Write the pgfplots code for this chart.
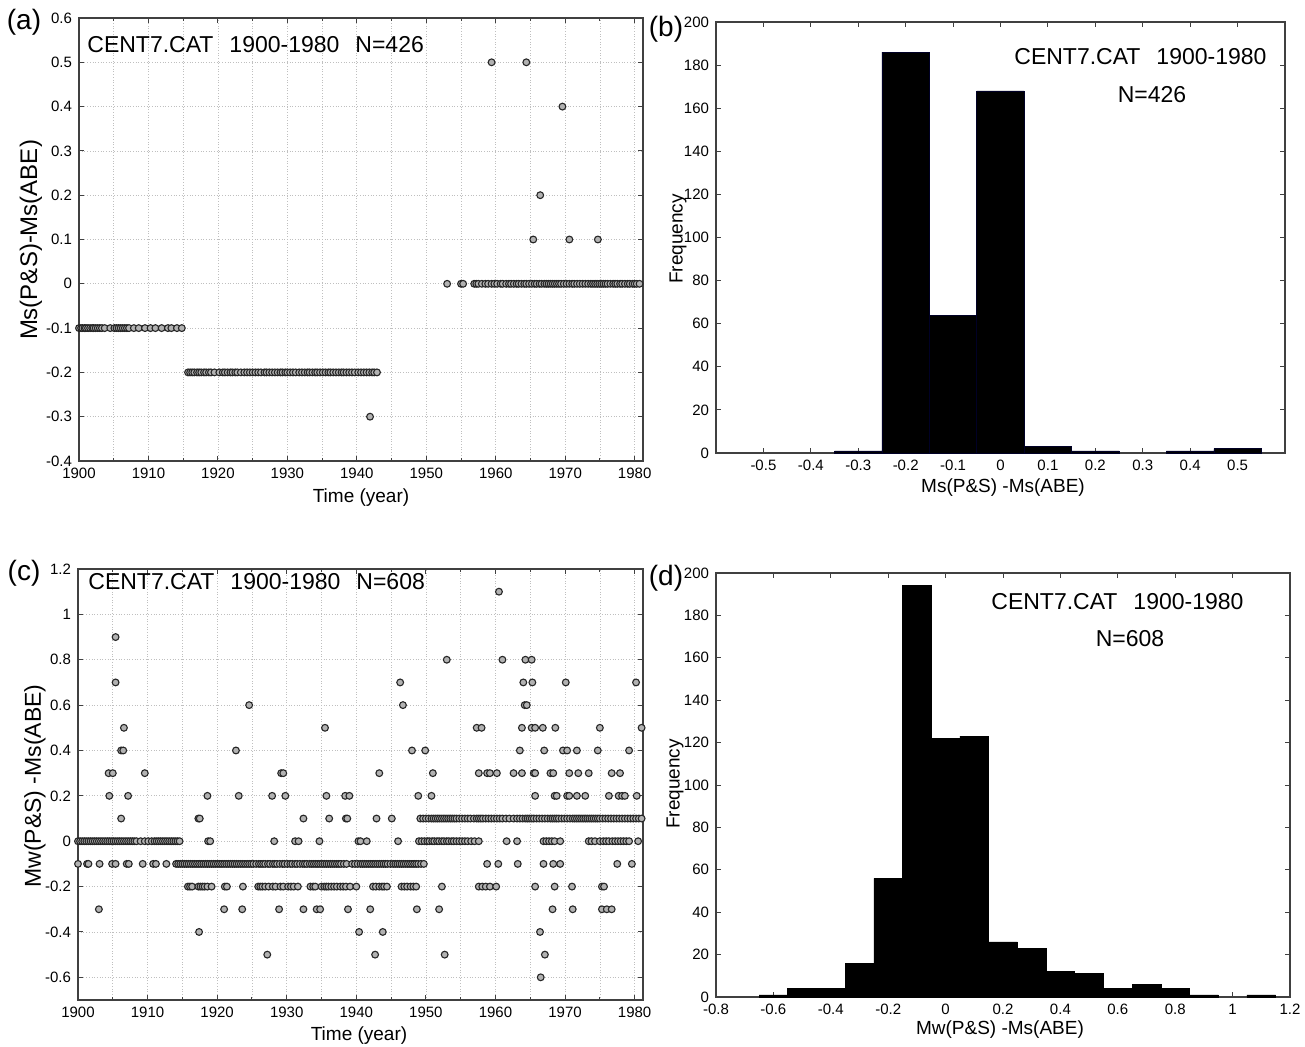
\documentclass[border=0pt]{standalone}
\usepackage{fontspec}
\setmainfont{Liberation Sans}
\usepackage{pgfplots}
\pgfplotsset{compat=1.18}
\pgfplotsset{
  base/.style={
    scale only axis,
    anchor=north west,
    /pgf/number format/assume math mode=true,
    /pgf/number format/1000 sep={},
    tick label style={font=\fontsize{7.5}{8.5}\selectfont},
    tick align=inside,
    tick pos=both,
    major tick length=2.4pt,
    minor tick length=1.5pt,
    axis line style={black!75, line width=0.6pt},
    every tick/.style={black!75, line width=0.5pt},
  },
  scat/.style={only marks, mark=*, mark size=1.7pt,
    mark options={fill=gray!60, draw=black!85, line width=0.55pt}},
  gridst/.style={gray!50, line width=0.35pt, densely dotted},
}
\begin{document}
\begin{tikzpicture}
\path[use as bounding box] (0,0) rectangle (652.5pt,523pt);

% ---------------- (a) ----------------
\begin{axis}[base, at={(39.5pt,514pt)}, width=282pt, height=221.5pt,
  xmin=1900, xmax=1981.2, ymin=-0.4, ymax=0.6,
  xtick={1900,1910,...,1980}, minor xtick={1905,1915,...,1975},
  ytick={-0.4,-0.3,-0.2,-0.1,0,0.1,0.2,0.3,0.4,0.5,0.6},
  yticklabels={-0.4,-0.3,-0.2,-0.1,0,0.1,0.2,0.3,0.4,0.5,0.6},
  grid=both, major grid style={gridst}, minor grid style={gridst}]
\addplot[scat] coordinates {
(1900.0,-0.1)(1900.3,-0.1)(1900.5,-0.1)(1900.8,-0.1)(1901.0,-0.1)(1901.3,-0.1)(1901.6,-0.1)(1901.9,-0.1)(1902.1,-0.1)(1902.4,-0.1)(1902.7,-0.1)(1903.0,-0.1)(1903.3,-0.1)(1903.7,-0.1)(1904.5,-0.1)(1905.1,-0.1)(1905.4,-0.1)(1905.7,-0.1)(1906.0,-0.1)(1906.3,-0.1)(1906.6,-0.1)(1906.9,-0.1)(1907.2,-0.1)(1907.9,-0.1)(1908.6,-0.1)(1909.5,-0.1)(1910.3,-0.1)(1911.0,-0.1)(1911.9,-0.1)(1912.8,-0.1)(1913.3,-0.1)(1914.1,-0.1)(1914.8,-0.1)
(1915.7,-0.2)(1916.0,-0.2)(1916.3,-0.2)(1916.6,-0.2)(1917.0,-0.2)(1917.3,-0.2)(1917.6,-0.2)(1918.0,-0.2)(1918.3,-0.2)(1918.7,-0.2)(1919.0,-0.2)(1919.5,-0.2)(1920.2,-0.2)(1920.7,-0.2)(1921.0,-0.2)(1921.4,-0.2)(1921.8,-0.2)(1922.1,-0.2)(1922.5,-0.2)(1922.8,-0.2)(1923.3,-0.2)(1923.8,-0.2)(1924.2,-0.2)(1924.6,-0.2)(1925.0,-0.2)(1925.4,-0.2)(1925.8,-0.2)(1926.2,-0.2)(1926.7,-0.2)(1927.0,-0.2)(1927.4,-0.2)(1927.8,-0.2)(1928.2,-0.2)(1928.6,-0.2)(1929.0,-0.2)(1929.3,-0.2)(1929.7,-0.2)(1930.0,-0.2)(1930.4,-0.2)(1930.8,-0.2)(1931.2,-0.2)(1931.7,-0.2)(1932.1,-0.2)(1932.5,-0.2)(1932.9,-0.2)(1933.2,-0.2)(1933.6,-0.2)(1934.0,-0.2)(1934.3,-0.2)(1934.7,-0.2)(1935.1,-0.2)(1935.5,-0.2)(1935.9,-0.2)(1936.2,-0.2)(1936.6,-0.2)(1937.0,-0.2)(1937.4,-0.2)(1937.8,-0.2)(1938.1,-0.2)(1938.5,-0.2)(1938.9,-0.2)(1939.3,-0.2)(1939.7,-0.2)(1940.2,-0.2)(1940.6,-0.2)(1941.0,-0.2)(1941.4,-0.2)(1941.8,-0.2)(1942.2,-0.2)(1942.5,-0.2)(1942.9,-0.2)
(1941.9,-0.3)
(1953.0,0)(1955.0,0)(1955.3,0)(1956.9,0)(1957.2,0)(1957.5,0)(1958.0,0)(1958.5,0)(1958.9,0)(1959.4,0)(1959.8,0)(1960.2,0)(1960.7,0)(1961.0,0)(1961.5,0)(1961.9,0)(1962.2,0)(1962.6,0)(1963.0,0)(1963.3,0)(1963.7,0)(1964.1,0)(1964.4,0)(1964.8,0)(1965.2,0)(1965.6,0)(1965.9,0)(1966.3,0)(1966.6,0)(1967.0,0)(1967.3,0)(1967.6,0)(1967.9,0)(1968.2,0)(1968.5,0)(1968.8,0)(1969.1,0)(1969.4,0)(1969.8,0)(1970.2,0)(1970.6,0)(1971.0,0)(1971.3,0)(1971.7,0)(1972.1,0)(1972.5,0)(1972.9,0)(1973.3,0)(1973.7,0)(1974.0,0)(1974.3,0)(1974.6,0)(1974.9,0)(1975.2,0)(1975.5,0)(1975.8,0)(1976.1,0)(1976.5,0)(1976.9,0)(1977.2,0)(1977.5,0)(1977.9,0)(1978.2,0)(1978.6,0)(1979.0,0)(1979.3,0)(1979.7,0)(1980.0,0)(1980.3,0)(1980.7,0)
(1959.4,0.5)(1964.4,0.5)(1969.6,0.4)(1966.4,0.2)(1965.4,0.1)(1970.6,0.1)(1974.7,0.1)
};
\end{axis}

% ---------------- (b) ----------------
\begin{axis}[base, at={(358pt,512pt)}, width=284.5pt, height=215.5pt,
  xmin=-0.6, xmax=0.6, ymin=0, ymax=200,
  xtick={-0.5,-0.4,-0.3,-0.2,-0.1,0,0.1,0.2,0.3,0.4,0.5},
  xticklabels={-0.5,-0.4,-0.3,-0.2,-0.1,0,0.1,0.2,0.3,0.4,0.5},
  ytick={0,20,...,200}]
\addplot[ybar, bar width=0.1, bar shift=0pt, fill=black, draw=black!85!blue, line width=0.3pt] coordinates {
(-0.3,1)(-0.2,186)(-0.1,64)(0,168)(0.1,3)(0.2,1)(0.4,1)(0.5,2)
};
\end{axis}

% ---------------- (c) ----------------
\begin{axis}[base, at={(39pt,238.5pt)}, width=282.5pt, height=215.5pt,
  xmin=1900, xmax=1981.2, ymin=-0.7, ymax=1.2,
  xtick={1900,1910,...,1980}, minor xtick={1905,1915,...,1975},
  ytick={-0.6,-0.4,-0.2,0,0.2,0.4,0.6,0.8,1,1.2},
  yticklabels={-0.6,-0.4,-0.2,0,0.2,0.4,0.6,0.8,1,1.2},
  grid=both, major grid style={gridst}, minor grid style={gridst}]
\addplot[scat] coordinates {
(1900.0,0)(1900.3,0)(1900.6,0)(1900.9,0)(1901.2,0)(1901.5,0)(1901.8,0)(1902.1,0)(1902.4,0)(1902.7,0)(1903.0,0)(1903.3,0)(1903.6,0)(1903.9,0)(1904.2,0)(1904.5,0)(1904.8,0)(1905.1,0)(1905.4,0)(1905.7,0)(1906.0,0)(1906.3,0)(1906.6,0)(1906.9,0)(1907.2,0)(1907.5,0)(1907.8,0)(1908.1,0)(1908.4,0)(1909.0,0)(1909.6,0)(1910.1,0)(1910.6,0)(1911.0,0)(1911.3,0)(1911.6,0)(1911.9,0)(1912.2,0)(1912.5,0)(1912.8,0)(1913.1,0)(1913.4,0)(1913.7,0)(1914.0,0)(1914.3,0)(1914.6,0)
(1918.7,0)(1919.0,0)(1928.2,0)(1931.2,0)(1931.7,0)(1934.7,0)(1940.3,0)(1940.6,0)(1941.5,0)(1946.0,0)
(1949.0,0)(1949.4,0)(1949.8,0)(1950.2,0)(1950.5,0)(1950.9,0)(1951.2,0)(1951.6,0)(1951.9,0)(1952.3,0)(1952.6,0)(1953.0,0)(1953.3,0)(1953.7,0)(1954.0,0)(1954.4,0)(1954.8,0)(1955.2,0)(1955.6,0)(1956.0,0)(1956.5,0)(1957.0,0)(1957.6,0)
(1961.6,0)(1963.1,0)(1966.9,0)(1967.3,0)(1967.7,0)(1968.1,0)(1968.5,0)(1969.3,0)(1973.4,0)(1973.8,0)(1974.3,0)(1975.0,0)(1975.5,0)(1975.9,0)(1976.3,0)(1976.8,0)(1977.2,0)(1977.6,0)(1978.0,0)(1978.4,0)(1978.8,0)(1979.2,0)(1980.5,0)
(1900.0,-0.1)(1901.3,-0.1)(1901.5,-0.1)(1903.1,-0.1)(1904.9,-0.1)(1905.4,-0.1)(1907.0,-0.1)(1907.3,-0.1)(1909.3,-0.1)(1910.8,-0.1)(1911.2,-0.1)(1912.7,-0.1)
(1914.1,-0.1)(1914.4,-0.1)(1914.7,-0.1)(1915.0,-0.1)(1915.3,-0.1)(1915.6,-0.1)(1915.9,-0.1)(1916.2,-0.1)(1916.5,-0.1)(1916.8,-0.1)(1917.1,-0.1)(1917.4,-0.1)(1917.7,-0.1)(1918.0,-0.1)(1918.3,-0.1)(1918.6,-0.1)(1918.9,-0.1)(1919.2,-0.1)(1919.5,-0.1)(1919.8,-0.1)(1920.1,-0.1)(1920.4,-0.1)(1920.7,-0.1)(1921.0,-0.1)(1921.3,-0.1)(1921.6,-0.1)(1921.9,-0.1)(1922.2,-0.1)(1922.5,-0.1)(1922.8,-0.1)(1923.1,-0.1)(1923.4,-0.1)(1923.7,-0.1)(1924.0,-0.1)(1924.3,-0.1)(1924.6,-0.1)(1924.9,-0.1)(1925.2,-0.1)(1925.6,-0.1)(1926.0,-0.1)(1926.3,-0.1)(1926.6,-0.1)(1926.9,-0.1)(1927.3,-0.1)(1927.6,-0.1)(1928.0,-0.1)(1928.3,-0.1)(1928.6,-0.1)(1929.0,-0.1)(1929.4,-0.1)(1929.7,-0.1)(1930.1,-0.1)(1930.5,-0.1)(1930.8,-0.1)(1931.2,-0.1)(1931.5,-0.1)(1931.9,-0.1)(1932.3,-0.1)(1932.6,-0.1)(1932.9,-0.1)(1933.3,-0.1)(1933.6,-0.1)(1933.9,-0.1)(1934.2,-0.1)(1934.5,-0.1)(1934.8,-0.1)(1935.1,-0.1)(1935.4,-0.1)(1935.7,-0.1)(1936.0,-0.1)(1936.3,-0.1)(1936.6,-0.1)(1936.9,-0.1)(1937.2,-0.1)(1937.5,-0.1)(1937.8,-0.1)(1938.2,-0.1)(1938.6,-0.1)(1939.4,-0.1)(1939.8,-0.1)(1940.2,-0.1)(1940.6,-0.1)(1940.9,-0.1)(1941.2,-0.1)(1941.5,-0.1)(1941.8,-0.1)(1942.1,-0.1)(1942.4,-0.1)(1942.7,-0.1)(1943.0,-0.1)(1943.3,-0.1)(1943.6,-0.1)(1943.9,-0.1)(1944.2,-0.1)(1944.5,-0.1)(1944.9,-0.1)(1945.3,-0.1)(1945.6,-0.1)(1945.9,-0.1)(1946.2,-0.1)(1946.5,-0.1)(1946.8,-0.1)(1947.1,-0.1)(1947.4,-0.1)(1947.7,-0.1)(1948.0,-0.1)(1948.3,-0.1)(1948.6,-0.1)(1948.9,-0.1)(1949.3,-0.1)(1949.7,-0.1)
(1958.8,-0.1)(1960.4,-0.1)(1963.2,-0.1)(1966.9,-0.1)(1968.3,-0.1)(1969.3,-0.1)(1977.5,-0.1)(1979.6,-0.1)
(1906.2,0.1)(1917.3,0.1)(1917.5,0.1)(1932.4,0.1)(1936.1,0.1)(1938.5,0.1)(1938.7,0.1)(1942.9,0.1)(1945.1,0.1)
(1949.2,0.1)(1949.6,0.1)(1950.0,0.1)(1950.4,0.1)(1950.8,0.1)(1951.1,0.1)(1951.4,0.1)(1951.7,0.1)(1952.0,0.1)(1952.3,0.1)(1952.6,0.1)(1952.9,0.1)(1953.2,0.1)(1953.5,0.1)(1953.8,0.1)(1954.1,0.1)(1954.4,0.1)(1954.8,0.1)(1955.2,0.1)(1955.6,0.1)(1956.0,0.1)(1956.4,0.1)(1956.9,0.1)(1957.3,0.1)(1957.6,0.1)(1957.9,0.1)(1958.2,0.1)(1958.6,0.1)(1959.0,0.1)(1959.4,0.1)(1959.8,0.1)(1960.2,0.1)(1960.6,0.1)(1961.0,0.1)(1961.5,0.1)(1962.0,0.1)(1962.6,0.1)(1963.1,0.1)(1963.5,0.1)(1963.9,0.1)(1964.3,0.1)(1964.6,0.1)(1964.9,0.1)(1965.2,0.1)(1965.5,0.1)(1965.9,0.1)(1966.3,0.1)(1966.7,0.1)(1967.1,0.1)(1967.5,0.1)(1967.9,0.1)(1968.2,0.1)(1968.5,0.1)(1968.8,0.1)(1969.1,0.1)(1969.5,0.1)(1969.9,0.1)(1970.3,0.1)(1970.7,0.1)(1971.1,0.1)(1971.4,0.1)(1971.7,0.1)(1972.0,0.1)(1972.3,0.1)(1972.6,0.1)(1972.9,0.1)(1973.2,0.1)(1973.5,0.1)(1973.8,0.1)(1974.1,0.1)(1974.4,0.1)(1974.7,0.1)(1975.0,0.1)(1975.4,0.1)(1975.8,0.1)(1976.2,0.1)(1976.6,0.1)(1977.0,0.1)(1977.4,0.1)(1977.8,0.1)(1978.2,0.1)(1978.6,0.1)(1979.0,0.1)(1979.4,0.1)(1979.8,0.1)(1980.2,0.1)(1980.6,0.1)(1981.0,0.1)
(1904.5,0.2)(1907.2,0.2)(1918.6,0.2)(1923.1,0.2)(1927.9,0.2)(1929.8,0.2)(1935.7,0.2)(1938.4,0.2)(1939.0,0.2)(1948.9,0.2)(1950.8,0.2)(1965.7,0.2)(1968.5,0.2)(1968.8,0.2)(1970.3,0.2)(1970.6,0.2)(1971.7,0.2)(1972.9,0.2)(1976.3,0.2)(1977.7,0.2)(1978.2,0.2)(1978.6,0.2)(1980.3,0.2)
(1904.4,0.3)(1905.0,0.3)(1909.6,0.3)(1929.2,0.3)(1929.5,0.3)(1943.3,0.3)(1951.0,0.3)(1957.6,0.3)(1958.8,0.3)(1959.2,0.3)(1960.2,0.3)(1962.6,0.3)(1963.8,0.3)(1965.5,0.3)(1965.7,0.3)(1967.9,0.3)(1968.3,0.3)(1970.6,0.3)(1971.9,0.3)(1973.4,0.3)(1976.7,0.3)(1977.9,0.3)
(1906.2,0.4)(1906.5,0.4)(1922.7,0.4)(1948.0,0.4)(1949.9,0.4)(1963.5,0.4)(1967.0,0.4)(1969.7,0.4)(1970.3,0.4)(1971.7,0.4)(1974.7,0.4)(1979.2,0.4)
(1906.6,0.5)(1935.5,0.5)(1957.3,0.5)(1958.0,0.5)(1963.8,0.5)(1965.2,0.5)(1965.7,0.5)(1966.8,0.5)(1968.6,0.5)(1975.0,0.5)(1981.0,0.5)
(1924.6,0.6)(1946.7,0.6)(1964.2,0.6)(1964.5,0.6)
(1905.4,0.7)(1946.3,0.7)(1964.0,0.7)(1965.3,0.7)(1970.1,0.7)(1980.2,0.7)
(1953.0,0.8)(1961.0,0.8)(1964.3,0.8)(1965.2,0.8)
(1905.4,0.9)(1960.5,1.1)
(1915.8,-0.2)(1916.1,-0.2)(1916.4,-0.2)(1917.3,-0.2)(1917.6,-0.2)(1917.9,-0.2)(1918.2,-0.2)(1918.6,-0.2)(1919.2,-0.2)(1921.1,-0.2)(1921.4,-0.2)(1923.7,-0.2)(1925.9,-0.2)(1926.2,-0.2)(1926.5,-0.2)(1926.9,-0.2)(1927.4,-0.2)(1928.0,-0.2)(1928.4,-0.2)(1929.1,-0.2)(1929.5,-0.2)(1930.2,-0.2)(1930.6,-0.2)(1931.0,-0.2)(1931.6,-0.2)(1933.4,-0.2)(1933.8,-0.2)(1934.1,-0.2)(1935.0,-0.2)(1935.4,-0.2)(1935.7,-0.2)(1936.0,-0.2)(1936.4,-0.2)(1936.8,-0.2)(1937.2,-0.2)(1937.7,-0.2)(1938.1,-0.2)(1938.5,-0.2)(1939.1,-0.2)(1940.0,-0.2)(1942.4,-0.2)(1942.8,-0.2)(1943.3,-0.2)(1943.7,-0.2)(1944.0,-0.2)(1944.4,-0.2)(1946.5,-0.2)(1946.9,-0.2)(1947.3,-0.2)(1947.8,-0.2)(1948.2,-0.2)(1948.6,-0.2)(1952.3,-0.2)(1957.6,-0.2)(1958.1,-0.2)(1958.6,-0.2)(1959.2,-0.2)(1960.1,-0.2)(1965.7,-0.2)(1968.5,-0.2)(1971.0,-0.2)(1975.3,-0.2)(1975.6,-0.2)
(1903.0,-0.3)(1921.0,-0.3)(1923.6,-0.3)(1928.9,-0.3)(1932.4,-0.3)(1934.3,-0.3)(1934.8,-0.3)(1938.8,-0.3)(1942.0,-0.3)(1948.7,-0.3)(1951.9,-0.3)(1968.2,-0.3)(1971.1,-0.3)(1975.3,-0.3)(1976.0,-0.3)(1976.7,-0.3)
(1917.4,-0.4)(1940.4,-0.4)(1943.8,-0.4)(1966.4,-0.4)
(1927.2,-0.5)(1942.7,-0.5)(1952.7,-0.5)(1967.1,-0.5)
(1966.5,-0.6)
};
\end{axis}

% ---------------- (d) ----------------
\begin{axis}[base, at={(358pt,236.5pt)}, width=287pt, height=212pt,
  xmin=-0.8, xmax=1.2, ymin=0, ymax=200,
  xtick={-0.8,-0.6,-0.4,-0.2,0,0.2,0.4,0.6,0.8,1,1.2},
  xticklabels={-0.8,-0.6,-0.4,-0.2,0,0.2,0.4,0.6,0.8,1,1.2},
  ytick={0,20,...,200}]
\addplot[ybar, bar width=0.1, bar shift=0pt, fill=black, draw=black, line width=0.3pt] coordinates {
(-0.6,1)(-0.5,4)(-0.4,4)(-0.3,16)(-0.2,56)(-0.1,194)(0,122)(0.1,123)(0.2,26)(0.3,23)(0.4,12)(0.5,11)(0.6,4)(0.7,6)(0.8,4)(0.9,1)(1.1,1)
};
\end{axis}

% ---------------- labels ----------------
\node[font=\fontsize{14}{16}\selectfont] at (12pt,512pt) {(a)};
\node[font=\fontsize{14}{16}\selectfont] at (333pt,508.5pt) {(b)};
\node[font=\fontsize{14}{16}\selectfont] at (12pt,236.5pt) {(c)};
\node[font=\fontsize{14}{16}\selectfont] at (333pt,234pt) {(d)};

\node[font=\fontsize{12}{14}\selectfont, rotate=90] at (15.5pt,403pt) {Ms(P\&S)-Ms(ABE)};
\node[font=\fontsize{9.5}{11}\selectfont] at (180.5pt,274pt) {Time (year)};
\node[font=\fontsize{9.5}{11}\selectfont, rotate=90] at (339pt,403.5pt) {Frequency};
\node[font=\fontsize{9.5}{11}\selectfont] at (501.5pt,279pt) {Ms(P\&S) -Ms(ABE)};
\node[font=\fontsize{11.5}{13}\selectfont, rotate=90] at (17.5pt,130pt) {Mw(P\&S) -Ms(ABE)};
\node[font=\fontsize{9.5}{11}\selectfont] at (179.5pt,5pt) {Time (year)};
\node[font=\fontsize{9.5}{11}\selectfont, rotate=90] at (337.5pt,131pt) {Frequency};
\node[font=\fontsize{9.5}{11}\selectfont] at (500pt,8pt) {Mw(P\&S) -Ms(ABE)};

\node[font=\fontsize{11.5}{13}\selectfont, anchor=west, inner sep=0pt] at (43.5pt,500.5pt) {CENT7.CAT\hspace{8pt}1900-1980\hspace{8pt}N=426};
\node[font=\fontsize{11.5}{13}\selectfont, anchor=west, inner sep=0pt] at (507pt,494.5pt) {CENT7.CAT\hspace{8pt}1900-1980};
\node[font=\fontsize{11.5}{13}\selectfont, inner sep=0pt] at (576pt,475.5pt) {N=426};
\node[font=\fontsize{11.5}{13}\selectfont, anchor=west, inner sep=0pt] at (44pt,232pt) {CENT7.CAT\hspace{8pt}1900-1980\hspace{8pt}N=608};
\node[font=\fontsize{11.5}{13}\selectfont, anchor=west, inner sep=0pt] at (495.5pt,222pt) {CENT7.CAT\hspace{8pt}1900-1980};
\node[font=\fontsize{11.5}{13}\selectfont, inner sep=0pt] at (565pt,203.5pt) {N=608};
\end{tikzpicture}
\end{document}
